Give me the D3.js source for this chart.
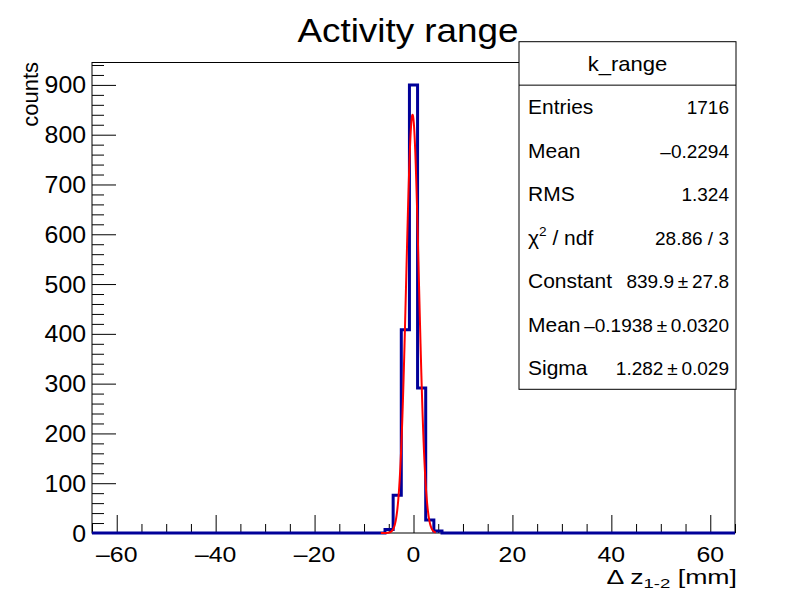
<!DOCTYPE html>
<html>
<head>
<meta charset="utf-8">
<script src="https://cdn.jsdelivr.net/npm/d3@7"></script>
<style>
  html, body { margin: 0; padding: 0; background: #fff; }
  svg { display: block; font-family: "Liberation Sans", Arial, Helvetica, sans-serif; }
</style>
</head>
<body>
<svg id="chart" width="805" height="592"></svg>
<script>
// Histogram k_range: 79 bins over [-65, 65]
const histTitle = "Activity range";
const histName = "k_range";
const xMin = -65, xMax = 65, nBins = 79;
const binCounts = [
  0, 0, 0, 0, 0, 0, 0, 0, 0, 0,
  0, 0, 0, 0, 0, 0, 0, 0, 0, 0,
  0, 0, 0, 0, 0, 0, 0, 0, 0, 0,
  0, 0, 0, 0, 0, 0, 7, 76, 408, 900,
  291, 26, 4, 0, 0, 0, 0, 0, 0, 0,
  0, 0, 0, 0, 0, 0, 0, 0, 0, 0,
  0, 0, 0, 0, 0, 0, 0, 0, 0, 0,
  0, 0, 0, 0, 0, 0, 0, 0, 0
];

// Gaussian fit result
const fitConstant = 839.9, fitMean = -0.1938, fitSigma = 1.282;
const fitRange = [-6.6, 4.5];

// Axis ticks
const xMajorTicks = [-60, -40, -20, 0, 20, 40, 60];
const yMajorTicks = [0, 100, 200, 300, 400, 500, 600, 700, 800, 900];
const yMax = 945;

// Statistics box rows
const pm = "\u2009\u00b1\u2009";
const statLabels = ["Entries", "Mean", "RMS", "χ2 / ndf", "Constant", "Mean", "Sigma"];
const statValues = ["1716", "\u20130.2294", "1.324", "28.86 / 3",
  "839.9" + pm + "27.8", "\u20130.1938" + pm + "0.0320", "1.282" + pm + "0.029"];

const svg = d3.select("#chart");
const frame = { left: 92, right: 735, top: 62.5, bottom: 533 };

const x = d3.scaleLinear().domain([xMin, xMax]).range([frame.left, frame.right]);
const y = d3.scaleLinear().domain([0, yMax]).range([frame.bottom, frame.top]);

// Text placed at (px, py), scaled by sx horizontally and sy vertically
function label(parent, px, py, size, anchor, sx, sy = 1) {
  return parent.append("text")
    .attr("transform", `translate(${px},${py}) scale(${sx},${sy})`)
    .attr("text-anchor", anchor)
    .attr("font-size", size);
}

// Title
label(svg, 408, 42, 33.5, "middle", 1.1).text(histTitle);

// Frame
svg.append("rect")
  .attr("x", frame.left).attr("y", frame.top)
  .attr("width", frame.right - frame.left).attr("height", frame.bottom - frame.top)
  .attr("fill", "none").attr("stroke", "#000").attr("stroke-width", 1);

// X axis ticks (major every 20, minor every 5)
const xMinor = d3.range(-65, 65.001, 5).filter(v => !xMajorTicks.includes(v));
const xAxisMajor = d3.axisBottom(x).tickValues(xMajorTicks).tickSize(18).tickFormat("");
const xAxisMinor = d3.axisBottom(x).tickValues(xMinor).tickSize(9).tickFormat("");
[[xAxisMajor, 18], [xAxisMinor, 9]].forEach(([ax, len]) => {
  const g = svg.append("g").attr("transform", `translate(0,${frame.bottom - len})`).call(ax);
  g.select(".domain").remove();
  g.selectAll("line").attr("stroke", "#000").attr("stroke-width", 1);
});

xMajorTicks.forEach(d => {
  label(svg, x(d), 561.5, 23, "middle", 1.08, 0.95).text(d < 0 ? "\u2013" + Math.abs(d) : d);
});

// Y axis ticks (major every 100, minor every 20)
const yMinor = d3.range(0, yMax, 20).filter(v => v % 100 !== 0);
const yAxisMajor = d3.axisRight(y).tickValues(yMajorTicks).tickSize(24).tickFormat("");
const yAxisMinor = d3.axisRight(y).tickValues(yMinor).tickSize(12).tickFormat("");
[yAxisMajor, yAxisMinor].forEach(ax => {
  const g = svg.append("g").attr("transform", `translate(${frame.left},0)`).call(ax);
  g.select(".domain").remove();
  g.selectAll("line").attr("stroke", "#000").attr("stroke-width", 1);
});

yMajorTicks.forEach(d => {
  label(svg, 86, y(d) + 8.5, 23, "end", 1.08).text(d);
});

// Axis titles
const xt = label(svg, 737, 584, 23, "end", 1.16, 0.85);
xt.append("tspan").text("\u0394 z");
xt.append("tspan").attr("font-size", 16).attr("dy", 5).text("1-2");
xt.append("tspan").attr("dy", -5).text(" [mm]");

svg.append("text")
  .attr("transform", "translate(38,62) rotate(-90)")
  .attr("text-anchor", "end")
  .attr("font-size", 22)
  .text("counts");

// Histogram outline as a step line
const stepPts = [];
const bw = (xMax - xMin) / nBins;
stepPts.push([xMin, 0]);
binCounts.forEach((c, i) => {
  const lo = xMin + i * bw, hi = lo + bw;
  stepPts.push([lo, c]);
  stepPts.push([hi, c]);
});
stepPts.push([xMax, 0]);

svg.append("path")
  .datum(stepPts)
  .attr("d", d3.line().x(d => x(d[0])).y(d => y(d[1])))
  .attr("fill", "none")
  .attr("stroke", "#000099")
  .attr("stroke-width", 3)
  .attr("stroke-linejoin", "miter");

// Gaussian fit curve
const gaus = v => fitConstant * Math.exp(-0.5 * Math.pow((v - fitMean) / fitSigma, 2));
const fitPts = d3.range(fitRange[0], fitRange[1] + 1e-9, 0.02).map(v => [v, gaus(v)]);
svg.append("path")
  .datum(fitPts)
  .attr("d", d3.line().x(d => x(d[0])).y(d => y(d[1])))
  .attr("fill", "none")
  .attr("stroke", "#ff0000")
  .attr("stroke-width", 2);

// Statistics box
const box = { left: 519, right: 736, top: 41.7, bottom: 389.3 };
const rowH = (box.bottom - box.top) / (statLabels.length + 1);
svg.append("rect")
  .attr("x", box.left).attr("y", box.top)
  .attr("width", box.right - box.left).attr("height", box.bottom - box.top)
  .attr("fill", "#fff").attr("stroke", "#000").attr("stroke-width", 1);
svg.append("line")
  .attr("x1", box.left).attr("x2", box.right)
  .attr("y1", box.top + rowH).attr("y2", box.top + rowH)
  .attr("stroke", "#000").attr("stroke-width", 1);
label(svg, (box.left + box.right) / 2, box.top + rowH / 2 + 7.5, 21, "middle", 1.05).text(histName);

statLabels.forEach((lab, i) => {
  const cy = box.top + rowH * (i + 1.5);
  const t = label(svg, 528, cy + 7.5, 20, "start", 1.05);
  if (lab.startsWith("χ2")) {
    t.append("tspan").text("χ");
    t.append("tspan").attr("font-size", 13).attr("dy", -9).text("2");
    t.append("tspan").attr("dy", 9).text(" / ndf");
  } else {
    t.text(lab);
  }
  label(svg, 729, cy + 7.5, 19, "end", 1.0).text(statValues[i]);
});
</script>
</body>
</html>
